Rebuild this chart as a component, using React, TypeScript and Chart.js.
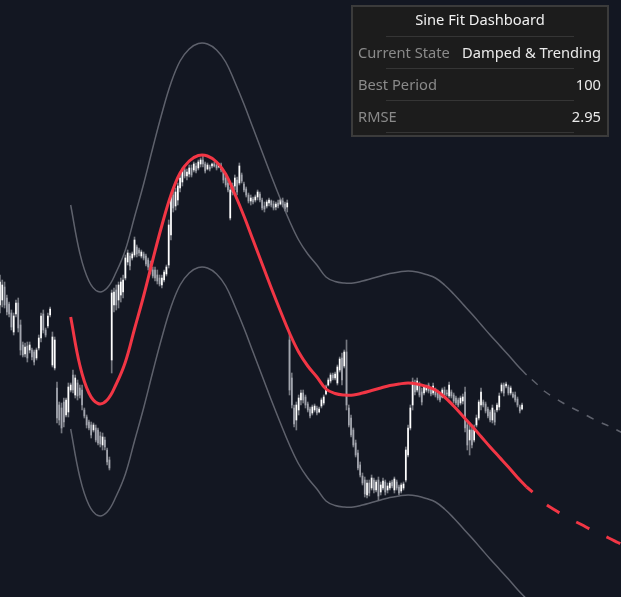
import { useEffect, useRef } from 'react';
import { Chart, registerables } from 'chart.js';

Chart.register(...registerables);

// ---- data (price units) ----
const highs = [
  325, 320, 318, 305, 298, 290, 287, 300, 302, 280,
  258, 257, 258, 258, 252, 250, 252, 265, 287, 290,
  272, 287, 293, 268, 263, 218, 198, 197, 202, 202,
  217, 217, 230, 225, 220, 215, 215, 192, 185, 180,
  178, 177, 175, 172, 168, 167, 163, 152, 143, 310,
  312, 315, 318, 322, 325, 345, 350, 347, 348, 363,
  355, 352, 350, 348, 346, 342, 339, 333, 333, 330,
  325, 325, 330, 335, 380, 407, 410, 412, 417, 425,
  432, 432, 431, 435, 435, 438, 437, 440, 442, 444,
  438, 437, 435, 437, 438, 438, 437, 437, 430, 424,
  420, 413, 417, 425, 423, 437, 427, 418, 413, 407,
  405, 403, 405, 410, 408, 402, 398, 400, 402, 400,
  399, 398, 400, 401, 402, 398, 400, 267, 227, 195,
  198, 205, 210, 210, 205, 198, 193, 195, 196, 194,
  193, 202, 205, 215, 222, 227, 227, 228, 235, 243,
  247, 250, 260, 195, 185, 172, 160, 150, 138, 127,
  123, 120, 120, 125, 122, 120, 123, 118, 122, 120,
  117, 119, 120, 123, 120, 115, 117, 118, 153, 175,
  195, 222, 220, 222, 218, 212, 215, 215, 217, 213,
  217, 212, 210, 208, 212, 213, 210, 218, 210, 207,
  204, 202, 204, 206, 213, 180, 177, 175, 175, 185,
  200, 212, 200, 198, 193, 190, 195, 190, 197, 207,
  217, 217, 218, 215, 214, 208, 208, 203, 195, 197,
];

const lows = [
  287, 293, 292, 285, 283, 270, 265, 283, 268, 245,
  243, 243, 238, 247, 240, 235, 240, 250, 258, 267,
  263, 272, 283, 233, 230, 177, 175, 167, 173, 183,
  183, 208, 207, 202, 200, 202, 190, 182, 172, 170,
  162, 168, 158, 155, 153, 150, 150, 135, 130, 227,
  288, 290, 292, 298, 302, 320, 335, 330, 340, 343,
  343, 344, 342, 340, 334, 330, 326, 322, 319, 316,
  314, 312, 318, 324, 332, 360, 388, 390, 395, 408,
  414, 422, 420, 423, 423, 428, 427, 430, 433, 433,
  427, 430, 429, 432, 433, 430, 432, 428, 417, 413,
  408, 380, 405, 410, 405, 415, 417, 408, 403, 397,
  395, 396, 398, 400, 398, 390, 388, 392, 394, 393,
  390, 390, 392, 395, 393, 389, 388, 205, 192, 173,
  170, 185, 195, 197, 192, 188, 182, 185, 188, 185,
  187, 192, 195, 205, 214, 217, 220, 220, 215, 228,
  215, 232, 190, 173, 163, 153, 143, 130, 123, 115,
  103, 102, 104, 110, 107, 108, 100, 105, 110, 105,
  107, 110, 112, 107, 110, 105, 107, 110, 118, 143,
  170, 190, 205, 208, 203, 195, 205, 208, 207, 204,
  205, 203, 200, 198, 202, 202, 204, 202, 202, 197,
  195, 193, 195, 196, 168, 150, 145, 152, 158, 173,
  180, 190, 193, 187, 182, 178, 177, 175, 188, 190,
  207, 204, 212, 205, 205, 202, 198, 193, 187, 190,
];

const opens = [
  295, 300, 313, 302, 296, 287, 268, 286, 297, 275,
  255, 246, 254, 250, 250, 248, 242, 252, 262, 286,
  270, 274, 285, 235, 232, 212, 195, 192, 198, 185,
  188, 210, 225, 205, 217, 212, 210, 190, 183, 178,
  175, 170, 172, 170, 164, 155, 160, 150, 140, 240,
  295, 310, 300, 305, 308, 322, 338, 344, 342, 345,
  353, 350, 344, 346, 344, 340, 336, 330, 330, 325,
  322, 315, 320, 326, 335, 365, 405, 394, 400, 412,
  418, 430, 424, 426, 432, 430, 434, 432, 436, 440,
  436, 431, 433, 434, 436, 435, 433, 435, 428, 422,
  417, 382, 408, 414, 420, 417, 425, 416, 411, 405,
  399, 401, 400, 403, 406, 400, 394, 394, 397, 399,
  396, 393, 397, 396, 399, 396, 393, 260, 222, 192,
  180, 190, 200, 207, 203, 196, 191, 187, 190, 192,
  188, 194, 197, 206, 215, 219, 225, 222, 217, 230,
  242, 234, 248, 192, 182, 170, 157, 147, 135, 124,
  120, 105, 117, 112, 120, 110, 120, 108, 112, 118,
  110, 112, 118, 110, 118, 113, 109, 112, 120, 145,
  172, 195, 215, 210, 215, 208, 207, 210, 215, 211,
  207, 210, 208, 206, 203, 210, 207, 204, 208, 205,
  202, 200, 197, 199, 208, 175, 160, 170, 160, 175,
  182, 195, 198, 196, 191, 188, 180, 187, 190, 193,
  209, 215, 214, 213, 207, 206, 205, 201, 193, 191,
];

const closes = [
  318, 315, 295, 288, 286, 273, 284, 297, 272, 250,
  245, 253, 242, 255, 243, 238, 250, 262, 284, 270,
  265, 284, 291, 263, 260, 182, 180, 172, 178, 200,
  213, 215, 210, 222, 204, 205, 195, 184, 175, 172,
  165, 175, 160, 157, 156, 163, 153, 138, 132, 307,
  308, 295, 315, 318, 320, 342, 347, 334, 346, 360,
  346, 347, 348, 342, 336, 333, 329, 324, 322, 319,
  316, 322, 328, 333, 375, 404, 392, 408, 414, 422,
  429, 424, 428, 432, 425, 436, 429, 438, 440, 436,
  429, 435, 431, 436, 434, 432, 436, 430, 420, 415,
  410, 410, 414, 422, 408, 434, 419, 410, 405, 399,
  402, 398, 403, 408, 400, 392, 391, 398, 400, 395,
  392, 396, 394, 400, 395, 391, 397, 210, 195, 176,
  195, 202, 207, 200, 195, 190, 184, 193, 194, 187,
  191, 200, 203, 213, 220, 225, 222, 226, 233, 241,
  220, 248, 195, 175, 165, 155, 145, 132, 125, 117,
  106, 117, 107, 122, 110, 118, 104, 115, 119, 108,
  114, 117, 114, 121, 112, 107, 115, 116, 150, 172,
  192, 218, 208, 219, 205, 198, 213, 214, 209, 206,
  214, 205, 202, 200, 210, 205, 206, 215, 204, 199,
  197, 195, 202, 203, 172, 155, 170, 155, 172, 182,
  198, 208, 195, 189, 184, 180, 192, 178, 195, 204,
  215, 207, 216, 207, 212, 203, 200, 195, 189, 195,
];

// fitted damped sine (bar index = FIT_START + k * FIT_STEP)
const FIT_START = 31;
const FIT_STEP = 4;
const fitValues = [
  283, 235, 207, 196.5, 200, 216, 238, 271, 304, 340,
  374.5, 405, 427, 439, 444.5, 444, 438, 426, 406, 384,
  360, 336, 312, 289, 267, 248, 234, 223, 211, 206.5,
  205, 205, 207, 209.5, 212, 214.5, 216, 217, 216, 213.5,
  210, 203, 194, 184, 174, 163.5, 153, 143, 133, 122.5,
  113,
];
// projection continues from the last fitted bar
const projectionValues = [113, 105, 96.5, 90.5, 85, 80, 75.5, 70.5, 66, 62, 57.5, 53];
const BAND_WIDTH = 112;

const TITLE = 'Sine Fit Dashboard';
const tableLabels = ['Current State', 'Best Period', 'RMSE'];
const tableValues = ['Damped & Trending', '100', '2.95'];

const X_MIN = 0;
const X_MAX = 272.4;
const Y_MIN = 3;
const Y_MAX = 600;

const W = 621;
const H = 597;

export default function App() {
  const ref = useRef<HTMLCanvasElement | null>(null);

  useEffect(() => {
    if (!ref.current) return;
    const fitPts = fitValues.map((v, k) => ({ x: FIT_START + k * FIT_STEP, y: v }));
    const projStart = FIT_START + (fitValues.length - 1) * FIT_STEP;
    const projPts = projectionValues.map((v, k) => ({ x: projStart + k * FIT_STEP, y: v }));
    const shift = (pts: { x: number; y: number }[], d: number) => pts.map((p) => ({ x: p.x, y: p.y + d }));

    const wick = highs.map((h, i) => ({ x: i, y: [lows[i], h] }));
    const body = opens.map((o, i) => ({ x: i, y: [o, closes[i]] }));
    const bodyColors = opens.map((o, i) => (closes[i] >= o ? '#ffffff' : '#a3a6af'));

    const bandColor = 'rgba(120,123,134,0.75)';
    const red = '#f23645';

    const lineBase = {
      type: 'line' as const,
      pointRadius: 0,
      fill: false,
      tension: 0.4,
    };

    const chart = new Chart(ref.current, {
      type: 'bar',
      data: {
        datasets: [
          {
            ...lineBase,
            data: shift(fitPts, BAND_WIDTH),
            borderColor: bandColor,
            borderWidth: 1.5,
            order: 1,
          },
          {
            ...lineBase,
            data: shift(fitPts, -BAND_WIDTH),
            borderColor: bandColor,
            borderWidth: 1.5,
            order: 1,
          },
          {
            ...lineBase,
            data: shift(projPts, BAND_WIDTH),
            borderColor: bandColor,
            borderWidth: 1.5,
            borderDash: [7.5, 9],
            borderDashOffset: 9.5,
            order: 1,
          },
          {
            ...lineBase,
            data: shift(projPts, -BAND_WIDTH),
            borderColor: bandColor,
            borderWidth: 1.5,
            borderDash: [7.5, 9],
            borderDashOffset: 9.5,
            order: 1,
          },
          {
            ...lineBase,
            data: fitPts,
            borderColor: red,
            borderWidth: 3,
            order: 0,
          },
          {
            ...lineBase,
            data: projPts,
            borderColor: red,
            borderWidth: 3,
            borderDash: [15, 19],
            borderDashOffset: 7,
            order: 0,
          },
          {
            type: 'bar' as const,
            data: wick as any,
            backgroundColor: '#74777f',
            barThickness: 1,
            grouped: false,
            order: 3,
          },
          {
            type: 'bar' as const,
            data: body as any,
            backgroundColor: bodyColors,
            barThickness: 1,
            grouped: false,
            order: 2,
          },
        ] as any,
      },
      options: {
        animation: false,
        responsive: false,
        events: [],
        layout: { padding: 0 },
        plugins: {
          legend: { display: false },
          tooltip: { enabled: false },
        },
        scales: {
          x: { type: 'linear', min: X_MIN, max: X_MAX, display: false, offset: false },
          y: { type: 'linear', min: Y_MIN, max: Y_MAX, display: false },
        },
      } as any,
    });
    return () => chart.destroy();
  }, []);

  const font = '"Noto Sans", "Open Sans", sans-serif';
  const rowTop = [36, 68, 100];

  return (
    <div style={{ position: 'fixed', left: 0, top: 0, width: W, height: H, background: '#131722', overflow: 'hidden' }}>
      <canvas ref={ref} width={W} height={H} style={{ position: 'absolute', left: 0, top: 0, width: W, height: H }} />
      <div
        style={{
          position: 'absolute',
          left: 351,
          top: 5,
          width: 258,
          height: 132,
          boxSizing: 'border-box',
          background: '#1c1c1c',
          border: '2px solid #3b3b3b',
          fontFamily: font,
          fontSize: 14.7,
        }}
      >
        <div style={{ position: 'absolute', left: 0, right: 0, top: -4, height: 33, lineHeight: '33px', textAlign: 'center', color: '#f0f0f0' }}>
          {TITLE}
        </div>
        {[31, 63, 95, 127].map((t) => (
          <div key={t} style={{ position: 'absolute', left: 33, width: 188, top: t - 2, height: 1, background: '#353535' }} />
        ))}
        {tableLabels.map((lab, i) => (
          <div key={lab} style={{ position: 'absolute', left: 0, right: 0, top: rowTop[i] - 7, height: 32, lineHeight: '32px' }}>
            <span style={{ position: 'absolute', left: 5, color: '#8a8a8a' }}>{lab}</span>
            <span style={{ position: 'absolute', right: 6, color: '#eaeaea' }}>{tableValues[i]}</span>
          </div>
        ))}
      </div>
    </div>
  );
}
